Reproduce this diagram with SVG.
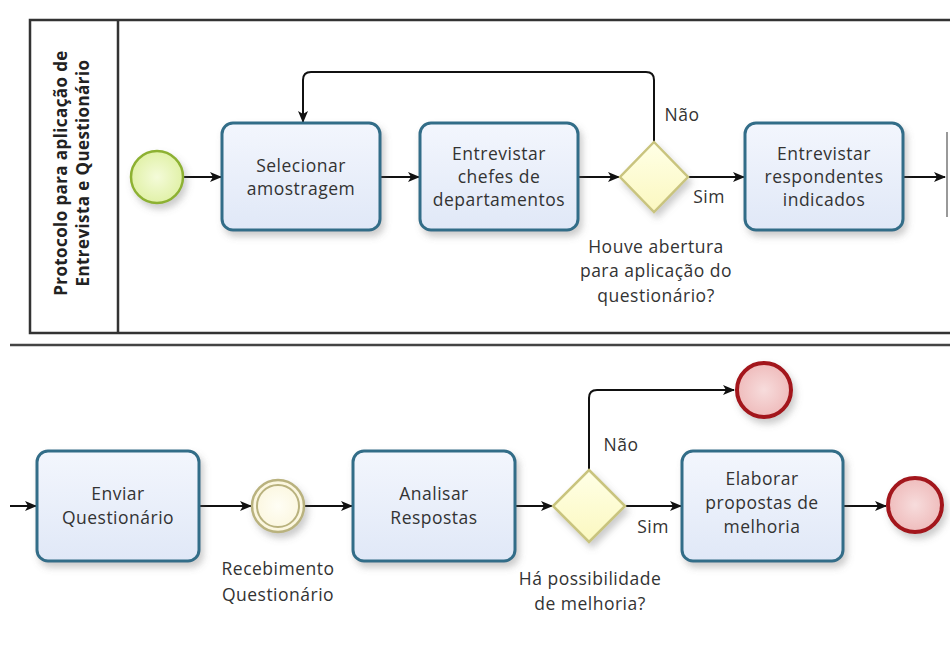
<svg xmlns="http://www.w3.org/2000/svg" width="950" height="657" viewBox="0 0 950 657">
<style>
.task rect{fill:url(#gTask);stroke:#336d88;stroke-width:3;filter:url(#sh)}
.t{font-family:"Open Sans","DejaVu Sans",sans-serif;font-size:17.5px;letter-spacing:0.5px;fill:#333;text-anchor:middle}
.lane{font-family:"Open Sans","DejaVu Sans",sans-serif;font-size:17px;letter-spacing:0.4px;font-weight:bold;fill:#222;text-anchor:middle}
.c{fill:none;stroke:#111;stroke-width:2;marker-end:url(#ar)}
.gw{fill:url(#gGw);stroke:#c9c47e;stroke-width:2.5;filter:url(#sh)}
.end{fill:url(#gEnd);stroke:#a3161c;stroke-width:4;filter:url(#sh)}
</style>
<defs>
<linearGradient id="gTask" x1="0" y1="0" x2="0" y2="1"><stop offset="0" stop-color="#f3f6fd"/><stop offset="1" stop-color="#e0e8f7"/></linearGradient>
<linearGradient id="gGw" x1="0" y1="0" x2="0" y2="1"><stop offset="0" stop-color="#ffffe6"/><stop offset="1" stop-color="#fbf8c0"/></linearGradient>
<radialGradient id="gStart"><stop offset="0" stop-color="#f4fbd9"/><stop offset="1" stop-color="#e1f1a8"/></radialGradient>
<radialGradient id="gEnd"><stop offset="0" stop-color="#f7dcdc"/><stop offset="1" stop-color="#efbcbc"/></radialGradient>
<radialGradient id="gInt"><stop offset="0" stop-color="#fffef5"/><stop offset="1" stop-color="#fbf6dd"/></radialGradient>
<filter id="sh" x="-20%" y="-20%" width="150%" height="160%"><feDropShadow dx="3" dy="5" stdDeviation="3.5" flood-color="#6a6a6a" flood-opacity="0.35"/></filter>
<marker id="ar" viewBox="0 0 12 10" refX="11" refY="5" markerWidth="12" markerHeight="10" markerUnits="userSpaceOnUse" orient="auto"><path d="M0,0 L12,5 L0,10 L3,5 Z" fill="#111"/></marker>
</defs>
<rect width="950" height="657" fill="#fff"/>
<g id="pool">
<path d="M952,20 H30 V333 H952" fill="none" stroke="#333" stroke-width="2.5"/>
<line x1="118" y1="20" x2="118" y2="333" stroke="#333" stroke-width="2.5"/>
<text class="lane" transform="translate(67,173) rotate(-90)">Protocolo para aplicação de</text>
<text class="lane" transform="translate(89,173) rotate(-90)">Entrevista e Questionário</text>
<line x1="947" y1="132" x2="947" y2="217" stroke="#999" stroke-width="2"/>
<line x1="10" y1="345" x2="950" y2="345" stroke="#444" stroke-width="2.5"/>
</g>
<g id="connectors">
<path class="c" d="M183,177 H221"/>
<path class="c" d="M380,177 H419"/>
<path class="c" d="M578,177 H619"/>
<path class="c" d="M688,177 H744"/>
<path class="c" d="M654,142 V80 Q654,72 646,72 H311 Q303,72 303,80 V122"/>
<path class="c" d="M903,177 H945"/>
<path class="c" d="M10,506 H36"/>
<path class="c" d="M199,506 H251"/>
<path class="c" d="M305,506 H352"/>
<path class="c" d="M515,506 H552"/>
<path class="c" d="M625,506 H681"/>
<path class="c" d="M589,470 V398 Q589,390 597,390 H734"/>
<path class="c" d="M843,506 H886"/>
</g>
<g id="start"><circle cx="157" cy="177" r="26" fill="url(#gStart)" stroke="#8db133" stroke-width="2.5" filter="url(#sh)"/></g>
<g id="selecionar" class="task"><rect x="222" y="123" width="158" height="107" rx="11"/>
<text class="t" x="301" y="172">Selecionar</text><text class="t" x="301" y="195">amostragem</text></g>
<g id="entrevistar-chefes" class="task"><rect x="420" y="123" width="158" height="107" rx="11"/>
<text class="t" x="499" y="160">Entrevistar</text><text class="t" x="499" y="183">chefes de</text><text class="t" x="499" y="206">departamentos</text></g>
<g id="gateway1"><polygon class="gw" points="654,142 688,177 654,212 620,177"/>
<text class="t" x="682" y="121">Não</text><text class="t" x="709" y="203">Sim</text>
<text class="t" x="656" y="253">Houve abertura</text><text class="t" x="656" y="277">para aplicação do</text><text class="t" x="656" y="302">questionário?</text></g>
<g id="entrevistar-respondentes" class="task"><rect x="745" y="123" width="158" height="107" rx="11"/>
<text class="t" x="824" y="160">Entrevistar</text><text class="t" x="824" y="183">respondentes</text><text class="t" x="824" y="206">indicados</text></g>
<g id="enviar" class="task"><rect x="37" y="451" width="162" height="110" rx="11"/>
<text class="t" x="118" y="500">Enviar</text><text class="t" x="118" y="524">Questionário</text></g>
<g id="recebimento"><circle cx="278" cy="506" r="26" fill="url(#gInt)" stroke="#b9b27e" stroke-width="2.5" filter="url(#sh)"/>
<circle cx="278" cy="506" r="21" fill="none" stroke="#b9b27e" stroke-width="2"/>
<text class="t" x="278" y="575">Recebimento</text><text class="t" x="278" y="601">Questionário</text></g>
<g id="analisar" class="task"><rect x="353" y="451" width="162" height="110" rx="11"/>
<text class="t" x="434" y="500">Analisar</text><text class="t" x="434" y="524">Respostas</text></g>
<g id="gateway2"><polygon class="gw" points="589,470 625,506 589,542 553,506"/>
<text class="t" x="621" y="451">Não</text><text class="t" x="653" y="533">Sim</text>
<text class="t" x="590" y="585">Há possibilidade</text><text class="t" x="590" y="610">de melhoria?</text></g>
<g id="end1"><circle cx="764" cy="390" r="27" class="end"/></g>
<g id="elaborar" class="task"><rect x="682" y="451" width="161" height="110" rx="11"/>
<text class="t" x="762" y="485">Elaborar</text><text class="t" x="762" y="509">propostas de</text><text class="t" x="762" y="533">melhoria</text></g>
<g id="end2"><circle cx="915" cy="505" r="27" class="end"/></g>
</svg>
